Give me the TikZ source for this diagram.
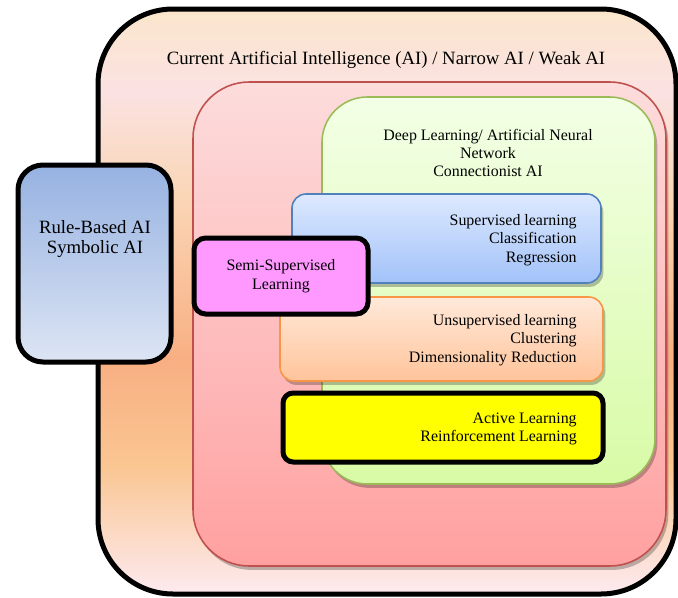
\documentclass[tikz,border=0pt]{standalone}
\usepackage{fontspec}
\setmainfont{Liberation Serif}
\usetikzlibrary{shadows}

% Farben
\definecolor{rotrand}{HTML}{C0504D}
\definecolor{gruenrand}{HTML}{9BBB59}
\definecolor{blaurand}{HTML}{4F81BD}
\definecolor{orangerand}{HTML}{F79646}
\definecolor{rosa}{HTML}{FF99FF}
\definecolor{gelb}{HTML}{FFFF00}
\definecolor{rotoben}{HTML}{FDDCDC}
\definecolor{rotunten}{HTML}{FFA0A0}
\definecolor{gruenoben}{HTML}{F3FFE6}
\definecolor{gruenunten}{HTML}{D8FBA6}
\definecolor{blauoben}{HTML}{DDE9FE}
\definecolor{blauunten}{HTML}{A2C2F9}
\definecolor{orangeoben}{HTML}{FFE9DA}
\definecolor{orangeunten}{HTML}{FFC49A}
\definecolor{regeloben}{HTML}{96B2E1}
\definecolor{regelunten}{HTML}{DDE5F4}
\definecolor{aeins}{HTML}{FBE6CC}
\definecolor{azwei}{HTML}{FBE2E2}
\definecolor{adrei}{HTML}{FAD6B6}
\definecolor{avier}{HTML}{F8AF82}
\definecolor{afuenf}{HTML}{FAC692}
\definecolor{asechs}{HTML}{FDEAF0}

% Verlauf fuer den aeusseren Kasten
\pgfdeclareverticalshading{aussenverlauf}{100bp}{color(0bp)=(asechs); color(25bp)=(asechs); color(36bp)=(afuenf); color(45bp)=(avier); color(59bp)=(adrei); color(68bp)=(azwei); color(75bp)=(aeins); color(100bp)=(aeins)}

\newcommand{\gross}{\fontsize{12}{12.8}\selectfont}
\newcommand{\klein}{\fontsize{10.2}{11.8}\selectfont}

\begin{document}
\begin{tikzpicture}[x=0.64pt,y=-0.64pt,
  schatten/.style={drop shadow={shadow xshift=1.5pt,shadow yshift=-2.5pt,opacity=0.25,fill=black}},
  dick/.style={draw=black,line width=3.2pt},
  rechts/.style={font=\klein,align=right,anchor=east,inner sep=0pt}]
\useasboundingbox (0,0) rectangle (678,598);

% Koordinaten
\coordinate (aussenNW) at (98,9);
\coordinate (aussenSE) at (676,594);
\coordinate (rotNW) at (193,82);
\coordinate (rotSE) at (666,566);
\coordinate (gruenNW) at (322,97);
\coordinate (gruenSE) at (655,484);
\coordinate (blauNW) at (292,194);
\coordinate (blauSE) at (601,283);
\coordinate (orangeNW) at (280,297);
\coordinate (orangeSE) at (603,381);
\coordinate (gelbNW) at (283,393);
\coordinate (gelbSE) at (603,462);
\coordinate (rosaNW) at (194,238);
\coordinate (rosaSE) at (368,314);
\coordinate (regelNW) at (18,165);
\coordinate (regelSE) at (171,362);

% Kaesten
\draw[dick,rounded corners=48pt,shading=aussenverlauf] (aussenNW) rectangle (aussenSE);
\draw[schatten,draw=rotrand,line width=1pt,rounded corners=36pt,top color=rotoben,bottom color=rotunten] (rotNW) rectangle (rotSE);
\draw[schatten,draw=gruenrand,line width=1pt,rounded corners=29pt,top color=gruenoben,bottom color=gruenunten] (gruenNW) rectangle (gruenSE);
\draw[schatten,draw=blaurand,line width=1pt,rounded corners=9pt,top color=blauoben,bottom color=blauunten] (blauNW) rectangle (blauSE);
\draw[schatten,draw=orangerand,line width=1pt,rounded corners=9pt,top color=orangeoben,bottom color=orangeunten] (orangeNW) rectangle (orangeSE);
\draw[dick,rounded corners=6.5pt,fill=gelb] (gelbNW) rectangle (gelbSE);
\draw[dick,rounded corners=7.5pt,fill=rosa] (rosaNW) rectangle (rosaSE);
\draw[dick,rounded corners=16pt,top color=regeloben,bottom color=regelunten] (regelNW) rectangle (regelSE);

% Beschriftungen
\node[font=\gross] (titel) at (386,60) {Current Artificial Intelligence (AI) / Narrow AI / Weak AI};
\node[font=\klein,align=center] (tief) at (488,153) {Deep Learning/ Artificial Neural\\Network\\Connectionist AI};
\node[rechts] (ueberwacht) at (577,240) {Supervised learning\\Classification\\Regression};
\node[rechts] (unueberwacht) at (577,340) {Unsupervised learning\\Clustering\\Dimensionality Reduction};
\node[rechts] (aktiv) at (577,429) {Active Learning\\Reinforcement Learning};
\node[font=\klein,align=center] (halb) at (281,276) {Semi-Supervised\\Learning};
\node[font=\gross,align=center] (regel) at (95,239) {Rule-Based AI\\Symbolic AI};
\end{tikzpicture}
\end{document}
